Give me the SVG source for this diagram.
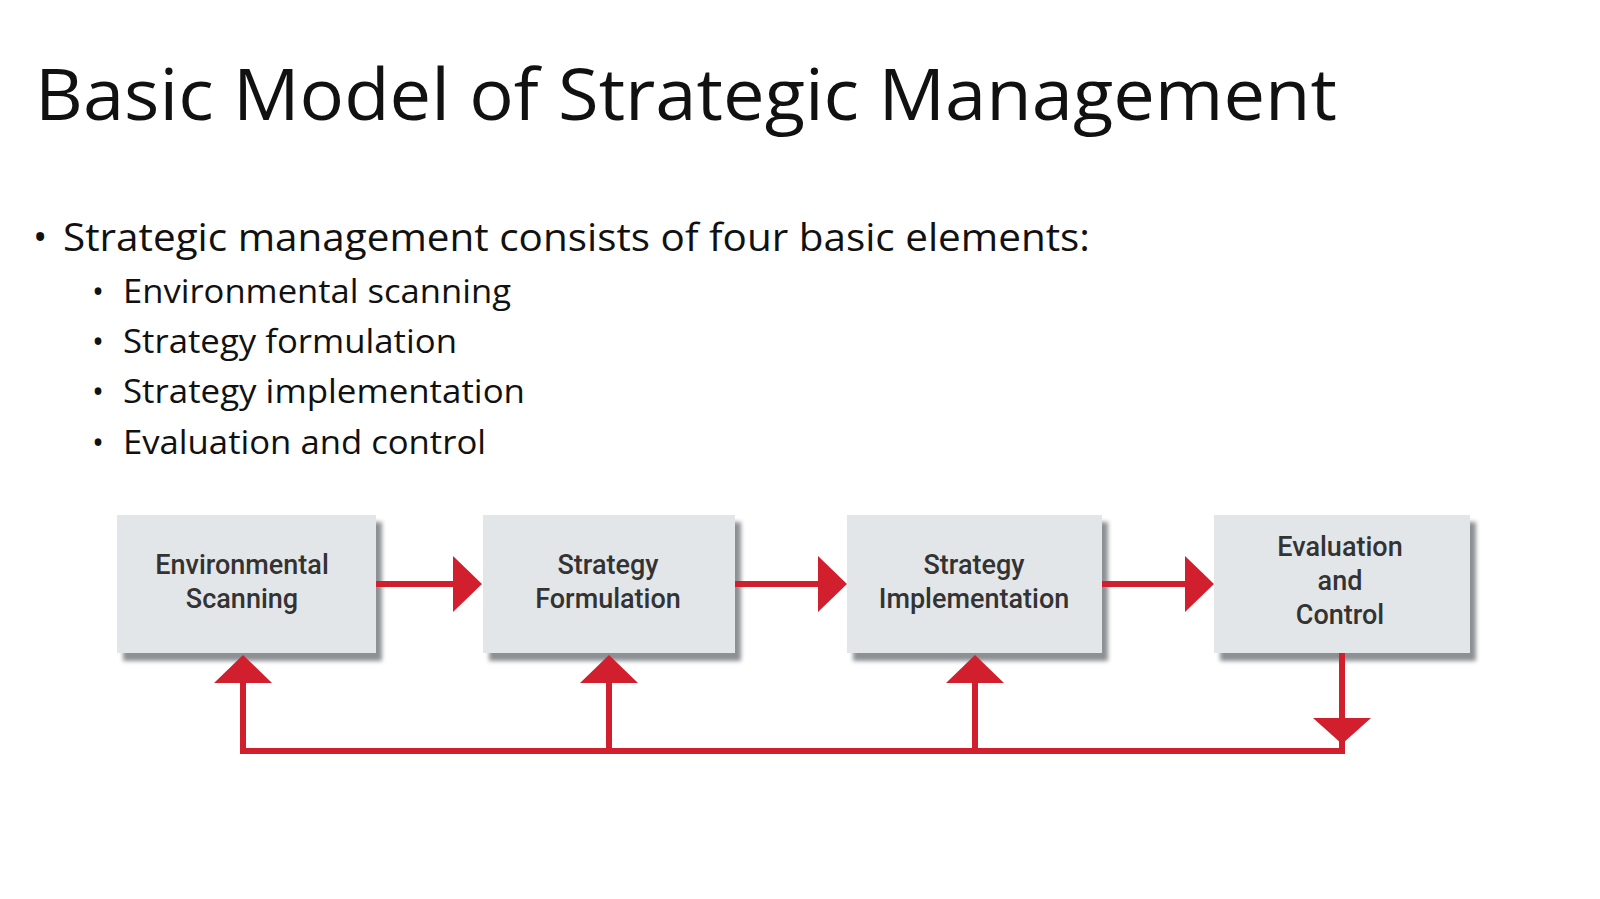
<svg xmlns="http://www.w3.org/2000/svg" width="1600" height="899" viewBox="0 0 1600 899">
<defs>
<style>
.box{fill:#e3e6e8}
.sh{fill:#8c9094}
.bt{font-family:Roboto,"DejaVu Sans Condensed",sans-serif;font-size:27px;font-weight:500;fill:#333;text-anchor:middle}
.ln{stroke:#d21f2e;stroke-width:6;fill:none}
.hd{fill:#d21f2e}
.t{font-family:"Open Sans","Noto Sans",sans-serif;fill:#111}
</style>
<filter id="b"><feGaussianBlur stdDeviation="2"/></filter>
</defs>
<rect width="1600" height="899" fill="#fff"/>
<text class="t" x="35" y="120" font-size="72" textLength="1302" lengthAdjust="spacingAndGlyphs">Basic Model of Strategic Management</text>
<text class="t" x="33" y="251" font-size="38">•</text>
<text class="t" x="63" y="251" font-size="38" textLength="1027" lengthAdjust="spacingAndGlyphs">Strategic management consists of four basic elements:</text>
<g class="t" font-size="32">
<text x="92" y="303">•</text><text x="123" y="303" textLength="388" lengthAdjust="spacingAndGlyphs">Environmental scanning</text>
<text x="92" y="353">•</text><text x="123" y="353" textLength="334" lengthAdjust="spacingAndGlyphs">Strategy formulation</text>
<text x="92" y="403">•</text><text x="123" y="403" textLength="402" lengthAdjust="spacingAndGlyphs">Strategy implementation</text>
<text x="92" y="454">•</text><text x="123" y="454" textLength="363" lengthAdjust="spacingAndGlyphs">Evaluation and control</text>
</g>
<g id="n1"><rect class="sh" x="123" y="522" width="259" height="139" filter="url(#b)"/><rect class="box" x="117" y="515" width="259" height="138"/><text class="bt" x="242" y="574">Environmental</text><text class="bt" x="242" y="608">Scanning</text></g>
<g id="n2"><rect class="sh" x="489" y="522" width="252" height="139" filter="url(#b)"/><rect class="box" x="483" y="515" width="252" height="138"/><text class="bt" x="608" y="574">Strategy</text><text class="bt" x="608" y="608">Formulation</text></g>
<g id="n3"><rect class="sh" x="853" y="522" width="255" height="139" filter="url(#b)"/><rect class="box" x="847" y="515" width="255" height="138"/><text class="bt" x="974" y="574">Strategy</text><text class="bt" x="974" y="608">Implementation</text></g>
<g id="n4"><rect class="sh" x="1220" y="522" width="256" height="139" filter="url(#b)"/><rect class="box" x="1214" y="515" width="256" height="138"/><text class="bt" x="1340" y="556">Evaluation</text><text class="bt" x="1340" y="590">and</text><text class="bt" x="1340" y="624">Control</text></g>
<g id="connectors">
<path class="ln" d="M376 584H456M735 584H821M1102 584H1188"/>
<path class="hd" d="M453 556L482 584L453 612ZM818 556L847 584L818 612ZM1185 556L1214 584L1185 612Z"/>
<path class="ln" d="M243 680V751H1342V653M609 680V751M975 680V751"/>
<path class="hd" d="M214 683L243 655L272 683ZM580 683L609 655L638 683ZM946 683L975 655L1004 683ZM1313 718L1342 744L1371 718Z"/>
</g>
</svg>
